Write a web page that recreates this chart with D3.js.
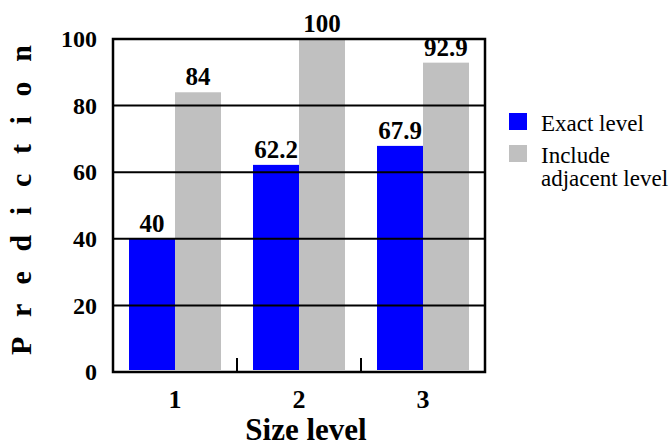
<!DOCTYPE html>
<html>
<head>
<meta charset="utf-8">
<script src="https://cdn.jsdelivr.net/npm/d3@7"></script>
<style>
  html, body { margin: 0; padding: 0; background: #fff; }
  svg { display: block; }
  svg text { font-family: "Liberation Serif", "Times New Roman", serif; fill: #000; }
</style>
</head>
<body>
<svg id="chart" width="672" height="447"></svg>
<script>
// Prediction accuracy by size level
const categories = ["1", "2", "3"];
const seriesNames = ["Exact level", "Include adjacent level"];
const exactLevel = [40, 62.2, 67.9];
const includeAdjacent = [84, 100, 92.9];
const yTicks = [0, 20, 40, 60, 80, 100];
const colors = ["#0000ff", "#c0c0c0"];

const FONT = "Liberation Serif";
const series = [exactLevel, includeAdjacent];
const rows = categories.map((c, i) => ({
  cat: c,
  vals: series.map((s, k) => ({ key: seriesNames[k], k, v: s[i] }))
}));

const svg = d3.select("#chart");
const plot = { left: 113, right: 485, top: 39, bottom: 372 };

const x = d3.scaleBand().domain(categories).range([plot.left, plot.right]).paddingInner(0).paddingOuter(0);
const x1 = d3.scaleBand().domain(seriesNames).range([0, x.bandwidth()]).paddingInner(0).paddingOuter(0.348);
const y = d3.scaleLinear().domain([0, 100]).range([plot.bottom, plot.top]);

// Bars
const groups = svg.append("g").selectAll("g").data(rows).join("g")
  .attr("transform", d => `translate(${x(d.cat)},0)`);

groups.selectAll("rect").data(d => d.vals).join("rect")
  .attr("x", d => x1(d.key))
  .attr("width", x1.bandwidth())
  .attr("y", d => y(d.v))
  .attr("height", d => y(0) - y(d.v) - 2)
  .attr("fill", d => colors[d.k]);

// Horizontal grid lines
svg.append("g").selectAll("line").data(yTicks.filter(t => t > 0 && t < 100)).join("line")
  .attr("x1", plot.left).attr("x2", plot.right)
  .attr("y1", d => y(d)).attr("y2", d => y(d))
  .attr("stroke", "#000").attr("stroke-width", 2);

// Frame
svg.append("rect")
  .attr("x", plot.left).attr("y", plot.top)
  .attr("width", plot.right - plot.left).attr("height", plot.bottom - plot.top)
  .attr("fill", "none").attr("stroke", "#000").attr("stroke-width", 2.5);

// Category separators on the x axis
svg.append("g").selectAll("line").data(categories.slice(1)).join("line")
  .attr("x1", d => x(d)).attr("x2", d => x(d))
  .attr("y1", plot.bottom).attr("y2", plot.bottom - 14)
  .attr("stroke", "#000").attr("stroke-width", 2);

// Value labels
groups.selectAll("text").data(d => d.vals).join("text")
  .attr("x", d => x1(d.key) + x1.bandwidth() / 2)
  .attr("y", d => y(d.v) - 7)
  .attr("text-anchor", "middle")
  .attr("font-family", FONT).attr("font-weight", "bold").attr("font-size", 25)
  .text(d => d.v);

// Y axis labels
const yAxis = d3.axisLeft(y).tickValues(yTicks).tickSize(0).tickPadding(16);
const gy = svg.append("g").attr("transform", `translate(${plot.left},0)`).call(yAxis);
gy.select(".domain").remove();
gy.selectAll("text").attr("font-family", FONT).attr("font-weight", "bold")
  .attr("font-size", 24).attr("fill", "#000");

// X axis labels
const xAxis = d3.axisBottom(x).tickSize(0).tickPadding(18);
const gx = svg.append("g").attr("transform", `translate(0,${plot.bottom})`).call(xAxis);
gx.select(".domain").remove();
gx.selectAll("text").attr("font-family", FONT).attr("font-weight", "bold")
  .attr("font-size", 26).attr("fill", "#000");

// Axis titles
svg.append("text")
  .attr("x", 306).attr("y", 440)
  .attr("text-anchor", "middle")
  .attr("font-family", FONT).attr("font-weight", "bold").attr("font-size", 31)
  .text("Size level");

svg.append("text")
  .attr("transform", "translate(31,200) rotate(-90)")
  .attr("text-anchor", "middle")
  .attr("font-family", FONT).attr("font-weight", "bold").attr("font-size", 30)
  .attr("textLength", 310).attr("lengthAdjust", "spacing")
  .text("Prediction");

// Legend
const legend = svg.append("g").attr("transform", "translate(509,113)");
const legendLines = [["Exact level"], ["Include", "adjacent level"]];
legendLines.forEach((lines, i) => {
  const g = legend.append("g").attr("transform", `translate(0,${i * 32})`);
  g.append("rect").attr("width", 18).attr("height", 17).attr("fill", colors[i]);
  lines.forEach((t, j) => {
    g.append("text").attr("x", 32).attr("y", 18 + j * 23)
      .attr("font-family", FONT).attr("font-size", 23).text(t);
  });
});
</script>
</body>
</html>
